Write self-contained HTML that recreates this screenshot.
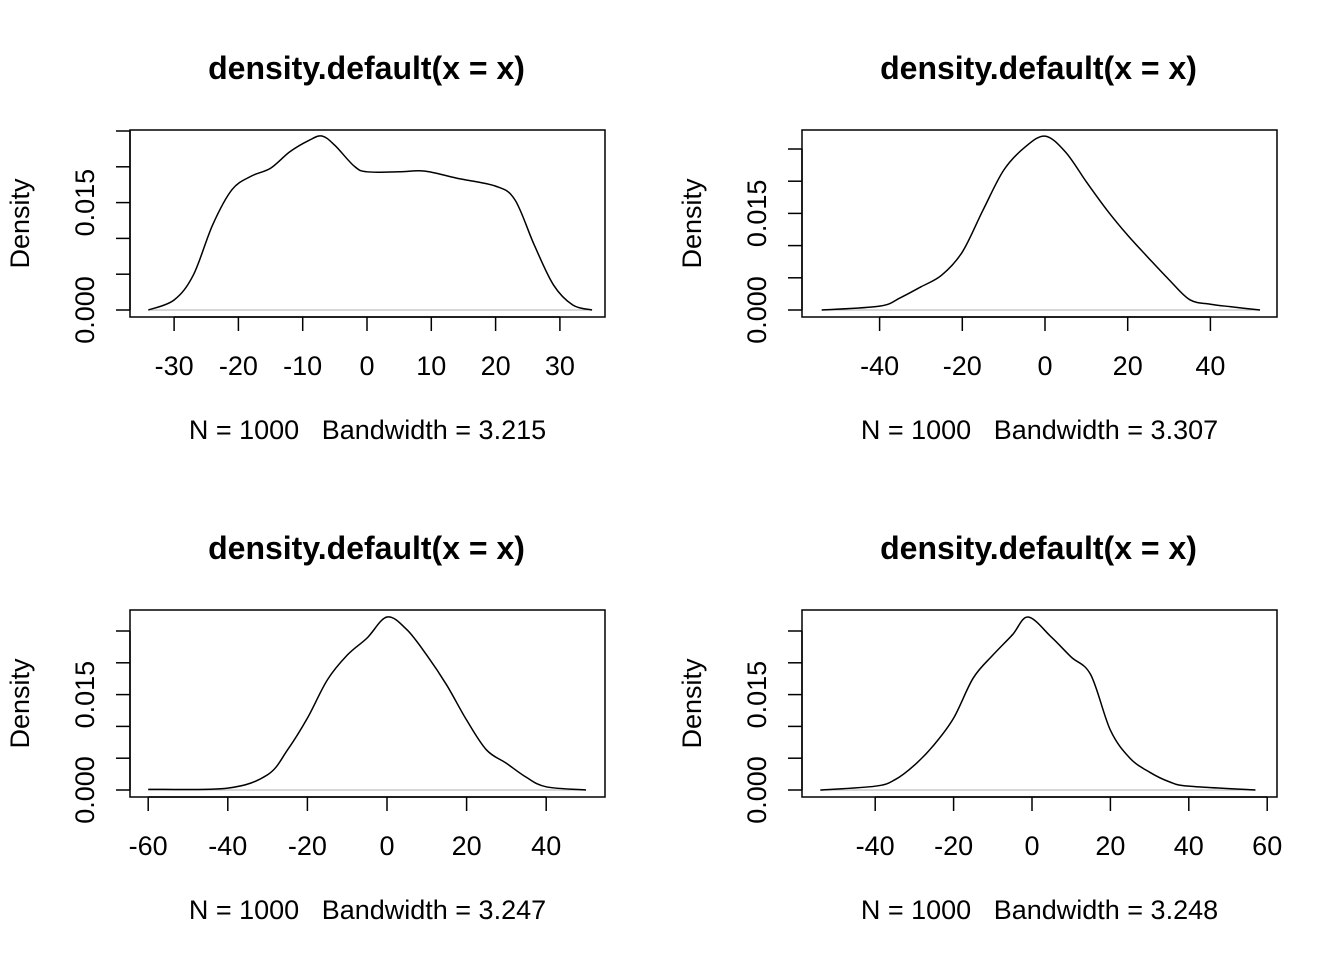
<!DOCTYPE html>
<html><head><meta charset="utf-8"><style>
body{margin:0;background:#fff}
svg{display:block;font-family:"Liberation Sans",Arial,sans-serif}
</style></head><body>
<svg id="chart" width="1344" height="960" viewBox="0 0 1344 960" xmlns="http://www.w3.org/2000/svg"></svg>
<script>
// Panel data (x values, density values)
const xs1=[-34,-30,-27,-24,-21,-18,-15,-12,-9,-7,-5,-2,0,5,9,14,20,23,26,29,32,35];
const ys1=[0,0.0014,0.0049,0.0119,0.0168,0.0187,0.0198,0.0221,0.0237,0.0243,0.0230,0.0201,0.0193,0.0193,0.0194,0.0184,0.0173,0.0154,0.0091,0.0035,0.0007,0];
const xs2=[-54,-40,-35,-30,-25,-20,-15,-10,-5,0,5,10,15,20,25,30,35,40,45,52];
const ys2=[0,0.0006,0.0019,0.0036,0.0054,0.009,0.0155,0.0217,0.0252,0.027,0.0245,0.0199,0.0155,0.0116,0.0081,0.0047,0.0016,0.0009,0.0005,0];
const xs3=[-60,-40,-30,-25,-20,-15,-10,-5,0,5,10,15,20,25,30,35,40,50];
const ys3=[0.0001,0.0003,0.0024,0.0063,0.0113,0.0173,0.0212,0.0239,0.0272,0.0252,0.0212,0.0165,0.011,0.0063,0.0042,0.002,0.0005,0];
const xs4=[-54,-40,-35,-30,-25,-20,-15,-10,-5,-1,5,10,15,20,25,30,35,40,57];
const ys4=[0,0.0006,0.0016,0.0039,0.0071,0.0113,0.0176,0.0212,0.0244,0.0272,0.024,0.0209,0.0181,0.0094,0.005,0.0028,0.0013,0.0006,0];
const xticks1=[-30,-20,-10,0,10,20,30];
const xticks2=[-40,-20,0,20,40];
const xticks3=[-60,-40,-20,0,20,40];
const xticks4=[-40,-20,0,20,40,60];
const yticks=[0,0.005,0.01,0.015,0.02,0.025];
const bws=["3.215","3.307","3.247","3.248"];

const svg=document.getElementById('chart');
const NS='http://www.w3.org/2000/svg';
function mk(tag,attrs,parent){const e=document.createElementNS(NS,tag);for(const k in attrs)e.setAttribute(k,attrs[k]);(parent||svg).appendChild(e);return e;}

const panels=[
 {xs:xs1,ys:ys1,xt:xticks1,bx:130,by:130,bw:475,bh:187,xp0:367,xs_:6.43,yp0:310,ys_:35.8/0.005,bw_:bws[0]},
 {xs:xs2,ys:ys2,xt:xticks2,bx:802,by:130,bw:475,bh:187,xp0:1045,xs_:4.135,yp0:310,ys_:32.2/0.005,bw_:bws[1]},
 {xs:xs3,ys:ys3,xt:xticks3,bx:130,by:610,bw:475,bh:187,xp0:387,xs_:3.98,yp0:790,ys_:31.8/0.005,bw_:bws[2]},
 {xs:xs4,ys:ys4,xt:xticks4,bx:802,by:610,bw:475,bh:187,xp0:1032,xs_:3.92,yp0:790,ys_:31.8/0.005,bw_:bws[3]}
];
panels.forEach((p,i)=>{
 const g=mk('g',{});
 
 
 const X=v=>p.xp0+v*p.xs_, Y=v=>p.yp0-v*p.ys_;
 const cx=p.bx+p.bw/2;
 const t=mk('text',{x:cx-1,y:p.by-51,'text-anchor':'middle','font-size':32,'font-weight':'bold'},g);t.textContent='density.default(x = x)';
 
 
 const box=mk('rect',{x:p.bx,y:p.by,width:p.bw,height:p.bh,fill:'none',stroke:'#000','stroke-width':1.5},g);
 
 
 const bl=mk('line',{x1:X(p.xs[0]),x2:X(p.xs[p.xs.length-1]),y1:Y(0),y2:Y(0),stroke:'#bebebe','stroke-width':1.2},g);
 
 
 const pts=p.xs.map((v,k)=>[X(v),Y(p.ys[k])]);
 let d='M'+pts[0][0]+','+pts[0][1];
 for(let k=0;k<pts.length-1;k++){const a=pts[k-1]||pts[k],b=pts[k],c=pts[k+1],e=pts[k+2]||c;
  d+=` C${b[0]+(c[0]-a[0])/6},${b[1]+(c[1]-a[1])/6} ${c[0]-(e[0]-b[0])/6},${c[1]-(e[1]-b[1])/6} ${c[0]},${c[1]}`;}
 const cv=mk('path',{d:d,fill:'none',stroke:'#000','stroke-width':1.5},g);
 
 
 const axY=p.by+p.bh;
 mk('line',{x1:X(p.xt[0]),x2:X(p.xt[p.xt.length-1]),y1:axY,y2:axY,stroke:'#000','stroke-width':1.5},g);
 p.xt.forEach(v=>{mk('line',{x1:X(v),x2:X(v),y1:axY,y2:axY+14,stroke:'#000','stroke-width':1.5},g);
  const tl=mk('text',{x:X(v),y:axY+58,'text-anchor':'middle','font-size':27},g);tl.textContent=v;
  
  });
 const axX=p.bx;
 mk('line',{x1:axX,x2:axX,y1:Y(0),y2:Y(0.025),stroke:'#000','stroke-width':1.5},g);
 yticks.forEach(v=>{mk('line',{x1:axX-14,x2:axX,y1:Y(v),y2:Y(v),stroke:'#000','stroke-width':1.5},g);});
 [0,0.015].forEach(v=>{const tl=mk('text',{x:0,y:0,'text-anchor':'middle','font-size':27,transform:`translate(${axX-36},${Y(v)}) rotate(-90)`},g);
  tl.textContent=v.toFixed(3);
  
  });
 const yl=mk('text',{x:0,y:0,'text-anchor':'middle','font-size':27,transform:`translate(${axX-101},${p.by+p.bh/2}) rotate(-90)`},g);yl.textContent='Density';
 
 
 const xl=mk('text',{x:cx,y:axY+122,'text-anchor':'middle','font-size':27},g);xl.textContent='N = 1000   Bandwidth = '+p.bw_;
 xl.setAttribute('style','white-space:pre');
 
 
});
</script>
</body></html>
